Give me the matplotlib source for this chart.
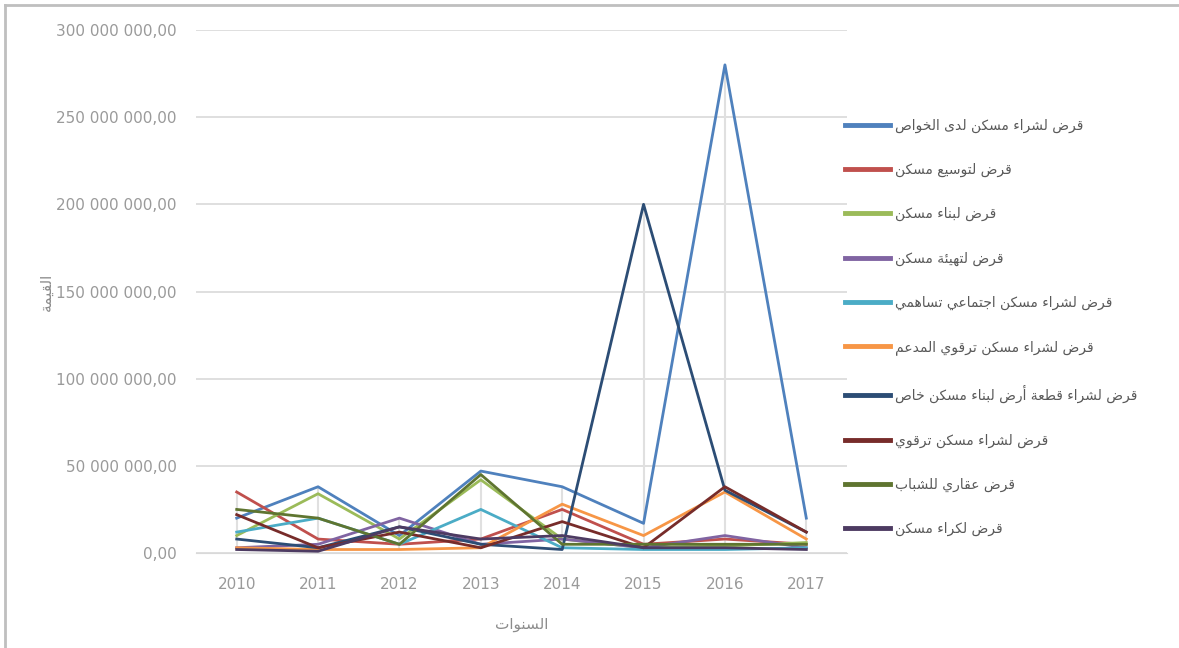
import matplotlib
matplotlib.use("Agg")
import matplotlib.pyplot as plt
from matplotlib.lines import Line2D
import numpy as np

# ---------------- data ----------------
years = ["2010", "2011", "2012", "2013", "2014", "2015", "2016", "2017"]

series_names = [
    "قرض لشراء مسكن لدى الخواص",
    "قرض لتوسيع مسكن",
    "قرض لبناء مسكن",
    "قرض لتهيئة مسكن",
    "قرض لشراء مسكن اجتماعي تساهمي",
    "قرض لشراء مسكن ترقوي المدعم",
    "قرض لشراء قطعة أرض لبناء مسكن خاص",
    "قرض لشراء مسكن ترقوي",
    "قرض عقاري للشباب",
    "قرض لكراء مسكن",
]

# values in DA
s1 = [20e6, 38e6, 10e6, 47e6, 38e6, 17e6, 280e6, 20e6]
s2 = [35e6, 8e6, 5e6, 8e6, 25e6, 5e6, 8e6, 5e6]
s3 = [10e6, 34e6, 8e6, 42e6, 8e6, 3e6, 4e6, 6e6]
s4 = [3e6, 5e6, 20e6, 5e6, 8e6, 3e6, 10e6, 3e6]
s5 = [12e6, 20e6, 5e6, 25e6, 3e6, 2e6, 2e6, 3e6]
s6 = [3e6, 2e6, 2e6, 3e6, 28e6, 10e6, 35e6, 8e6]
s7 = [8e6, 3e6, 15e6, 5e6, 2e6, 200e6, 36e6, 12e6]
s8 = [22e6, 3e6, 12e6, 3e6, 18e6, 3e6, 38e6, 12e6]
s9 = [25e6, 20e6, 5e6, 45e6, 5e6, 5e6, 5e6, 5e6]
s10 = [2e6, 1e6, 15e6, 8e6, 10e6, 3e6, 3e6, 2e6]
all_series = [s1, s2, s3, s4, s5, s6, s7, s8, s9, s10]

colors = ["#4F81BD", "#C0504D", "#9BBB59", "#8064A2", "#4BACC6",
          "#F79646", "#2C4D75", "#772C2A", "#5F7530", "#4D3B62"]

y_ticks = [0, 50e6, 100e6, 150e6, 200e6, 250e6, 300e6]
y_title = "القيمة"
x_title = "السنوات"

# ---------------- minimal Arabic shaping ----------------
FORMS = {
    'ء': (0xFE80, None, None, None),
    'آ': (0xFE81, 0xFE82, None, None),
    'أ': (0xFE83, 0xFE84, None, None),
    'ؤ': (0xFE85, 0xFE86, None, None),
    'إ': (0xFE87, 0xFE88, None, None),
    'ئ': (0xFE89, 0xFE8A, 0xFE8B, 0xFE8C),
    'ا': (0xFE8D, 0xFE8E, None, None),
    'ب': (0xFE8F, 0xFE90, 0xFE91, 0xFE92),
    'ة': (0xFE93, 0xFE94, None, None),
    'ت': (0xFE95, 0xFE96, 0xFE97, 0xFE98),
    'ث': (0xFE99, 0xFE9A, 0xFE9B, 0xFE9C),
    'ج': (0xFE9D, 0xFE9E, 0xFE9F, 0xFEA0),
    'ح': (0xFEA1, 0xFEA2, 0xFEA3, 0xFEA4),
    'خ': (0xFEA5, 0xFEA6, 0xFEA7, 0xFEA8),
    'د': (0xFEA9, 0xFEAA, None, None),
    'ذ': (0xFEAB, 0xFEAC, None, None),
    'ر': (0xFEAD, 0xFEAE, None, None),
    'ز': (0xFEAF, 0xFEB0, None, None),
    'س': (0xFEB1, 0xFEB2, 0xFEB3, 0xFEB4),
    'ش': (0xFEB5, 0xFEB6, 0xFEB7, 0xFEB8),
    'ص': (0xFEB9, 0xFEBA, 0xFEBB, 0xFEBC),
    'ض': (0xFEBD, 0xFEBE, 0xFEBF, 0xFEC0),
    'ط': (0xFEC1, 0xFEC2, 0xFEC3, 0xFEC4),
    'ظ': (0xFEC5, 0xFEC6, 0xFEC7, 0xFEC8),
    'ع': (0xFEC9, 0xFECA, 0xFECB, 0xFECC),
    'غ': (0xFECD, 0xFECE, 0xFECF, 0xFED0),
    'ف': (0xFED1, 0xFED2, 0xFED3, 0xFED4),
    'ق': (0xFED5, 0xFED6, 0xFED7, 0xFED8),
    'ك': (0xFED9, 0xFEDA, 0xFEDB, 0xFEDC),
    'ل': (0xFEDD, 0xFEDE, 0xFEDF, 0xFEE0),
    'م': (0xFEE1, 0xFEE2, 0xFEE3, 0xFEE4),
    'ن': (0xFEE5, 0xFEE6, 0xFEE7, 0xFEE8),
    'ه': (0xFEE9, 0xFEEA, 0xFEEB, 0xFEEC),
    'و': (0xFEED, 0xFEEE, None, None),
    'ى': (0xFEEF, 0xFEF0, None, None),
    'ي': (0xFEF1, 0xFEF2, 0xFEF3, 0xFEF4),
}
LAM_ALEF = {'ا': (0xFEFB, 0xFEFC), 'أ': (0xFEF7, 0xFEF8),
            'إ': (0xFEF9, 0xFEFA), 'آ': (0xFEF5, 0xFEF6)}


def shape(text):
    out = []
    chars = list(text)
    i = 0
    n = len(chars)
    while i < n:
        c = chars[i]
        if c not in FORMS:
            out.append(c)
            i += 1
            continue
        prev = chars[i - 1] if i > 0 else None
        joins_prev = prev is not None and prev in FORMS and FORMS[prev][2] is not None
        if c == 'ل' and i + 1 < n and chars[i + 1] in LAM_ALEF:
            iso, fin = LAM_ALEF[chars[i + 1]]
            out.append(chr(fin if joins_prev else iso))
            i += 2
            continue
        nxt = chars[i + 1] if i + 1 < n else None
        joins_next = FORMS[c][2] is not None and nxt is not None and nxt in FORMS
        iso, fin, ini, med = FORMS[c]
        if joins_prev and joins_next:
            g = med
        elif joins_prev:
            g = fin
        elif joins_next:
            g = ini
        else:
            g = iso
        out.append(chr(g))
        i += 1
    return "".join(reversed(out))


# ---------------- figure ----------------
plt.rcParams['font.family'] = ['DejaVu Sans']
W, H = 1179, 648
fig = plt.figure(figsize=(W / 100, H / 100), dpi=100)
ax = fig.add_axes([196 / W, (H - 553) / H, (847 - 196) / W, (553 - 30) / H])

x = np.arange(len(years))

# high-low lines
arr = np.array(all_series)
ax.vlines(x, arr.min(axis=0), arr.max(axis=0), color="#E0E0E0", lw=1.5, zorder=1)

for vals, name, col in zip(all_series, series_names, colors):
    ax.plot(x, vals, color=col, lw=2.0, label=shape(name), zorder=3,
            solid_joinstyle='round')

ax.set_xlim(-0.5, len(years) - 0.5)
ax.set_ylim(0, 300e6)
ax.set_yticks(y_ticks)


def fmt(v):
    if v == 0:
        return "0,00"
    s = f"{int(v):,}".replace(",", " ")
    return s + ",00"


ax.set_yticklabels([fmt(v) for v in y_ticks])
ax.set_xticks(x)
ax.set_xticklabels(years)
ax.grid(axis='y', color="#D9D9D9", lw=1.2)
ax.set_axisbelow(True)
for sp in ax.spines.values():
    sp.set_visible(False)
ax.spines['bottom'].set_visible(True)
ax.spines['bottom'].set_color("#D9D9D9")
ax.tick_params(axis='both', length=0, labelsize=11, labelcolor="#9A9A9A")
ax.tick_params(axis='y', pad=14)
ax.tick_params(axis='x', pad=17)

ax.set_xlabel(shape(x_title), fontsize=11, color="#8C8C8C", labelpad=18)
ax.set_ylabel(shape(y_title), fontsize=11, color="#8C8C8C", labelpad=2)

handles = [Line2D([0], [0], color=c, lw=3.5) for c in colors]
leg = fig.legend(handles, [shape(n) for n in series_names],
                 loc='upper left', bbox_to_anchor=(832 / W, 1 - 106 / H),
                 frameon=False, fontsize=10, handlelength=3.3,
                 handletextpad=0.35, labelspacing=2.17)
for t in leg.get_texts():
    t.set_color("#595959")

# outer chart border
fig.add_artist(Line2D([5 / W, 1], [1 - 5 / H, 1 - 5 / H], color="#BFBFBF", lw=2,
                      transform=fig.transFigure))
fig.add_artist(Line2D([5 / W, 5 / W], [0, 1 - 5 / H], color="#BFBFBF", lw=2,
                      transform=fig.transFigure))

fig.savefig("out.png", dpi=100)
